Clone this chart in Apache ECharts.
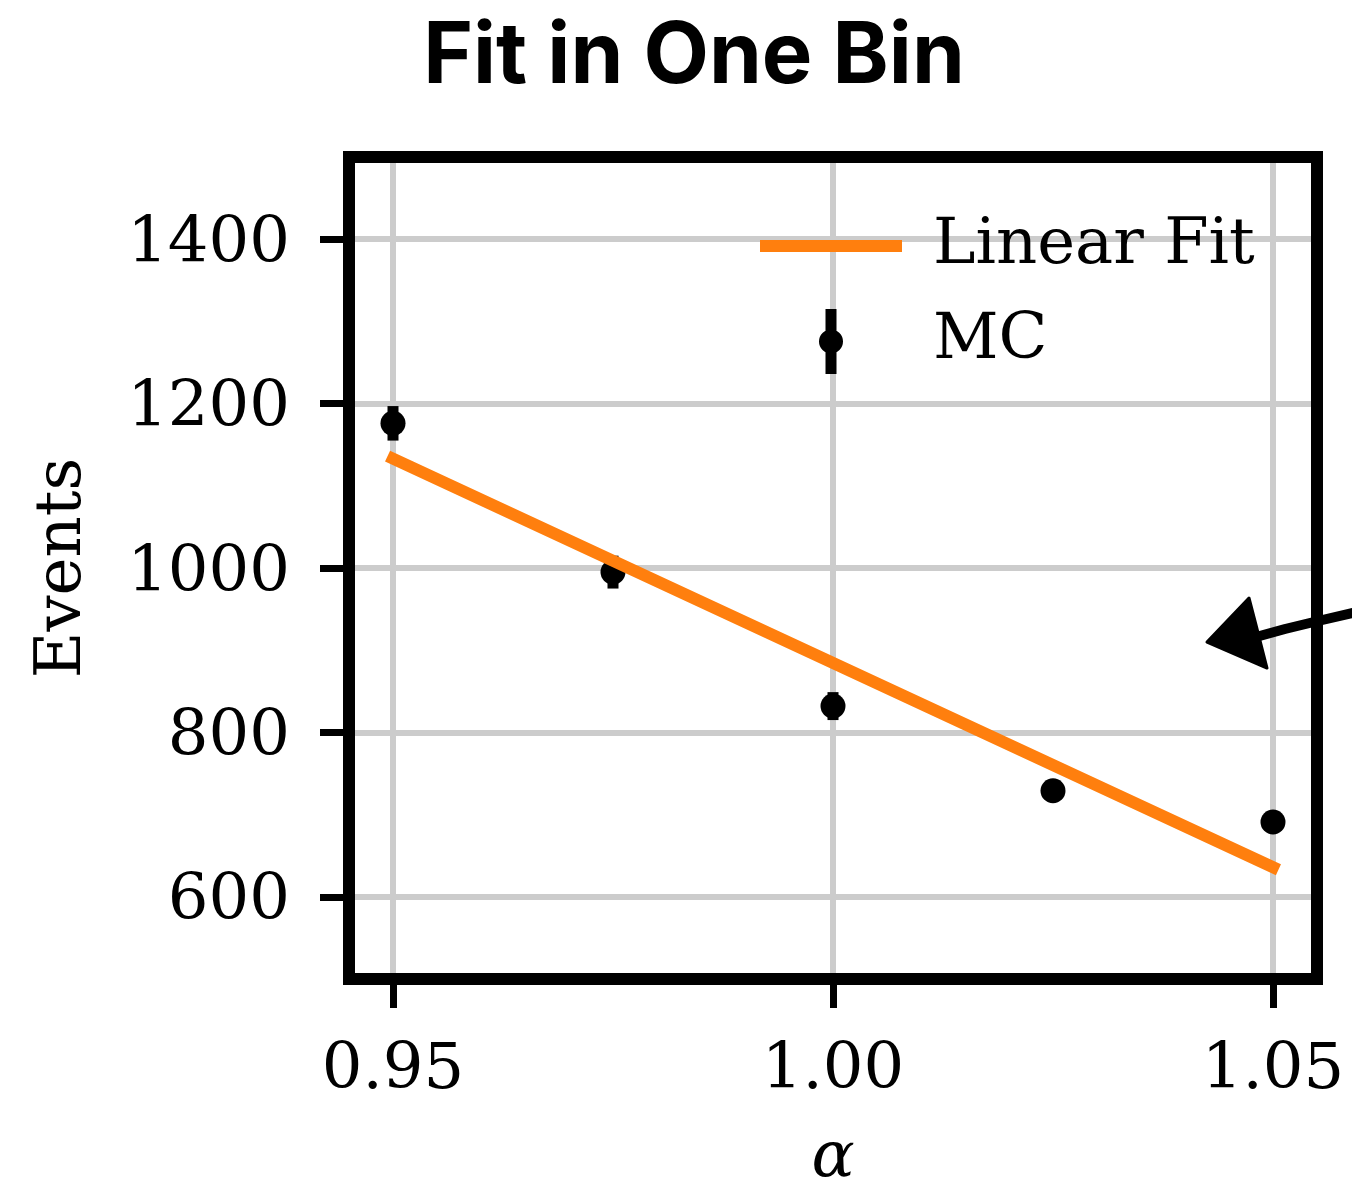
<!DOCTYPE html>
<html>
<head>
<meta charset="utf-8">
<style>
  html, body { margin: 0; padding: 0; background: #fff; }
  #chart { width: 1352px; height: 1185px; }
</style>
<script src="https://cdn.jsdelivr.net/npm/echarts@6/dist/echarts.min.js"></script>
</head>
<body>
<div id="chart"></div>
<script>
// ---- data ----
const alpha = [0.95, 0.975, 1.00, 1.025, 1.05];
const events = [1176, 995, 832, 729, 691];
const eventErrors = [21, 20, 17, 13, 12];
const fitAlpha = [0.95, 1.05];
const fitEvents = [1133, 636];
const xTickValues = [0.95, 1.00, 1.05];
const yTickValues = [600, 800, 1000, 1200, 1400];
const xRange = [0.945, 1.055];
const yRange = [500, 1500];

// ---- layout ----
const W = 1352, H = 1185;
const G = { left: 349, top: 157, right: 1317, bottom: 979 };
const SERIF = '"DejaVu Serif", serif';

const chart = echarts.init(document.getElementById('chart'), null, { renderer: 'canvas', width: W, height: H });

const mcData = alpha.map((a, i) => [a, events[i]]);
const errData = alpha.map((a, i) => [a, events[i], eventErrors[i]]);
const fitData = fitAlpha.map((a, i) => [a, fitEvents[i]]);

const legendText = { fontFamily: SERIF, fontSize: 64, color: '#000', padding: [10, 0, 0, 0] };

const option = {
  backgroundColor: '#ffffff',
  animation: false,
  title: {
    text: 'Fit in One Bin',
    left: 689,
    top: 10,
    textAlign: 'center',
    textStyle: { fontFamily: 'Inter', fontWeight: 700, fontSize: 85, color: '#000' }
  },
  grid: {
    left: G.left, top: G.top, right: W - G.right, bottom: H - G.bottom,
    containLabel: false,
    outerBoundsMode: 'none',
    show: true,
    z: 1,
    borderWidth: 12,
    borderColor: '#000',
    backgroundColor: 'transparent'
  },
  legend: [
    {
      data: [{ name: 'Linear Fit', icon: 'path://M0,0H142V12H0Z' }],
      left: 760, top: 214, padding: 0,
      itemWidth: 194, itemHeight: 12,
      symbolKeepAspect: true,
      selectedMode: false,
      textStyle: legendText
    },
    {
      data: [{ name: 'MC', icon: 'path://M6.5,0H17.5V65H6.5Z M24,32.5A12,12,0,1,1,0,32.5A12,12,0,1,1,24,32.5Z' }],
      left: 819, top: 309, padding: 0,
      itemWidth: 194, itemHeight: 65,
      symbolKeepAspect: true,
      selectedMode: false,
      textStyle: legendText
    }
  ],
  xAxis: {
    type: 'value',
    min: xRange[0], max: xRange[1],
    z: 0,
    name: 'α',
    nameLocation: 'middle',
    nameGap: 148,
    nameTextStyle: { fontFamily: SERIF, fontStyle: 'italic', fontSize: 64, color: '#000' },
    axisLine: { show: false },
    axisTick: { show: true, inside: false, length: 29, customValues: xTickValues, lineStyle: { color: '#000', width: 7 } },
    axisLabel: {
      customValues: xTickValues, margin: 60,
      fontFamily: SERIF, fontSize: 64, color: '#000',
      formatter: v => v.toFixed(2)
    },
    splitLine: { show: true, lineStyle: { color: '#cccccc', width: 6 } }
  },
  yAxis: {
    type: 'value',
    min: yRange[0], max: yRange[1],
    z: 0,
    name: 'Events',
    nameLocation: 'middle',
    nameRotate: 90,
    nameGap: 254,
    nameTextStyle: { fontFamily: SERIF, fontSize: 64, color: '#000' },
    axisLine: { show: false },
    axisTick: { show: true, inside: false, length: 29, customValues: yTickValues, lineStyle: { color: '#000', width: 7 } },
    axisLabel: {
      customValues: yTickValues, margin: 59,
      fontFamily: SERIF, fontSize: 64, color: '#000',
      verticalAlign: 'top',
      lineHeight: 12,
      formatter: v => String(v)
    },
    splitLine: { show: true, lineStyle: { color: '#cccccc', width: 6 } }
  },
  series: [
    {
      name: 'MC err',
      type: 'custom',
      z: 3,
      data: errData,
      renderItem: (params, api) => {
        const x = api.value(0), y = api.value(1), e = api.value(2);
        const p1 = api.coord([x, y - e]);
        const p2 = api.coord([x, y + e]);
        return {
          type: 'line',
          shape: { x1: p1[0], y1: p1[1], x2: p2[0], y2: p2[1] },
          style: { stroke: '#000', lineWidth: 11, lineCap: 'butt', opacity: 1 }
        };
      }
    },
    {
      name: 'MC',
      type: 'scatter',
      z: 4,
      symbol: 'circle',
      symbolSize: 25,
      itemStyle: { color: '#000', opacity: 1 },
      data: mcData
    },
    {
      name: 'Linear Fit',
      type: 'line',
      z: 5,
      showSymbol: false,
      symbol: 'none',
      itemStyle: { color: '#ff7f0e', opacity: 1 },
      lineStyle: { color: '#ff7f0e', width: 12, cap: 'square', opacity: 1 },
      data: fitData
    }
  ],
  graphic: [
    {
      type: 'polyline',
      z: 100,
      shape: { points: [[1256, 637], [1285, 629], [1318, 621], [1352, 613]] },
      style: { stroke: '#000', lineWidth: 10, fill: null, lineCap: 'round', lineJoin: 'round' }
    },
    {
      type: 'polygon',
      z: 100,
      shape: { points: [[1207, 642], [1249, 598], [1256, 625], [1267, 668]] },
      style: { fill: '#000', stroke: '#000', lineWidth: 3, lineJoin: 'round' }
    }
  ]
};

chart.setOption(option);
</script>
</body>
</html>
